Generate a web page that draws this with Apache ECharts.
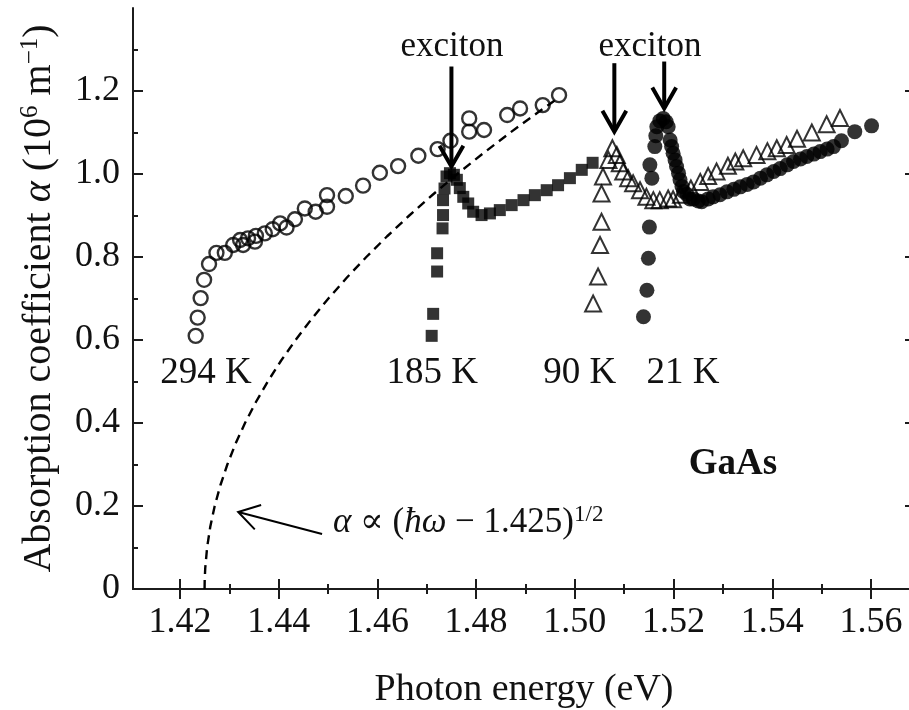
<!DOCTYPE html>
<html>
<head>
<meta charset="utf-8">
<script src="https://cdn.jsdelivr.net/npm/echarts@6/dist/echarts.min.js"></script>
<style>
  html, body { margin: 0; padding: 0; background: #ffffff; }
  #main { width: 909px; height: 710px; }
</style>
</head>
<body>
<div id="main"></div>
<script>
// Axis ticks (photon energy in eV, absorption in 10^6 m^-1)
const xMajorTicks = [1.42, 1.44, 1.46, 1.48, 1.50, 1.52, 1.54, 1.56];
const xMinorTicks = [1.43, 1.45, 1.47, 1.49, 1.51, 1.53, 1.55];
const yMajorTicks = [0, 0.2, 0.4, 0.6, 0.8, 1.0, 1.2];
const yMinorTicks = [0.1, 0.3, 0.5, 0.7, 0.9, 1.1, 1.3];

// 294 K (open circles)
const t294 = [
  [1.4232, 0.610], [1.4236, 0.654], [1.4242, 0.701], [1.4249, 0.745], [1.4259, 0.783],
  [1.4274, 0.810], [1.4291, 0.810], [1.4308, 0.829], [1.4322, 0.841], [1.4328, 0.829],
  [1.4338, 0.845], [1.4352, 0.837], [1.4354, 0.851], [1.4372, 0.857], [1.4388, 0.867],
  [1.4403, 0.881], [1.4416, 0.871], [1.4433, 0.891], [1.4453, 0.917], [1.4475, 0.909],
  [1.4498, 0.921], [1.4498, 0.949], [1.4536, 0.947], [1.4571, 0.972], [1.4605, 1.003],
  [1.4642, 1.019], [1.4683, 1.044], [1.4722, 1.060], [1.4748, 1.080], [1.4786, 1.134],
  [1.4786, 1.102], [1.4816, 1.106], [1.4863, 1.142], [1.4889, 1.158], [1.4935, 1.166],
  [1.4968, 1.190]
];

// 185 K (filled squares)
const t185 = [
  [1.4710, 0.610], [1.4713, 0.663], [1.4721, 0.765], [1.4721, 0.809], [1.4732, 0.869],
  [1.4733, 0.901], [1.4733, 0.937], [1.4736, 0.965], [1.4740, 0.994], [1.4747, 1.002],
  [1.4755, 0.998], [1.4761, 0.986], [1.4767, 0.966], [1.4774, 0.945], [1.4784, 0.929],
  [1.4794, 0.909], [1.4811, 0.901], [1.4828, 0.905], [1.4848, 0.913], [1.4872, 0.925],
  [1.4896, 0.937], [1.4919, 0.949], [1.4943, 0.961], [1.4966, 0.973], [1.4990, 0.990],
  [1.5014, 1.010], [1.5036, 1.027]
];

// 90 K (open triangles)
const t90 = [
  [1.5037, 0.688], [1.5047, 0.753], [1.5051, 0.829], [1.5054, 0.885], [1.5054, 0.953],
  [1.5057, 0.994], [1.5068, 1.034], [1.5076, 1.062], [1.5085, 1.046], [1.5091, 1.026],
  [1.5098, 1.006], [1.5108, 0.990], [1.5118, 0.978], [1.5132, 0.961], [1.5145, 0.945],
  [1.5159, 0.937], [1.5172, 0.937], [1.5189, 0.941], [1.5199, 0.939], [1.5215, 0.950],
  [1.5235, 0.965], [1.5254, 0.981], [1.5270, 0.995], [1.5287, 1.006], [1.5310, 1.020],
  [1.5325, 1.030], [1.5341, 1.038], [1.5368, 1.046], [1.5390, 1.055], [1.5409, 1.062],
  [1.5429, 1.070], [1.5450, 1.085], [1.5480, 1.100], [1.5510, 1.120], [1.5537, 1.135]
];

// 21 K (filled circles)
const t21 = [
  [1.5139, 0.656], [1.5146, 0.720], [1.5149, 0.797], [1.5151, 0.872], [1.5156, 0.990],
  [1.5152, 1.022], [1.5162, 1.066], [1.5164, 1.092], [1.5166, 1.114], [1.5172, 1.128],
  [1.5179, 1.134], [1.5185, 1.126], [1.5189, 1.114], [1.5193, 1.082], [1.5196, 1.066],
  [1.5199, 1.050], [1.5203, 1.034], [1.5206, 1.018], [1.5210, 1.002], [1.5213, 0.986],
  [1.5217, 0.970], [1.5220, 0.958], [1.5227, 0.951], [1.5233, 0.940], [1.5240, 0.940],
  [1.5250, 0.935], [1.5257, 0.933], [1.5270, 0.940], [1.5280, 0.945], [1.5294, 0.950],
  [1.5308, 0.957], [1.5322, 0.963], [1.5335, 0.969], [1.5349, 0.975], [1.5362, 0.981],
  [1.5376, 0.990], [1.5389, 0.998], [1.5403, 1.006], [1.5416, 1.013], [1.5430, 1.022],
  [1.5443, 1.030], [1.5457, 1.036], [1.5470, 1.042], [1.5484, 1.048], [1.5497, 1.054],
  [1.5511, 1.060], [1.5524, 1.066], [1.5540, 1.080], [1.5567, 1.102], [1.5601, 1.116]
];

// square-root absorption edge, alpha ~ (hw - 1.425)^(1/2)
const sqrtEdge = [
  [1.42500, 0.00], [1.42502, 0.02], [1.42513, 0.05], [1.42551, 0.10], [1.42615, 0.15],
  [1.42705, 0.20], [1.42820, 0.25], [1.42961, 0.30], [1.43127, 0.35], [1.43319, 0.40],
  [1.43537, 0.45], [1.43780, 0.50], [1.44048, 0.55], [1.44343, 0.60], [1.44663, 0.65],
  [1.45008, 0.70], [1.45379, 0.75], [1.45776, 0.80], [1.46198, 0.85], [1.46646, 0.90],
  [1.47120, 0.95], [1.47619, 1.00], [1.48144, 1.05], [1.48693, 1.10], [1.49269, 1.15],
  [1.49630, 1.18]
];

// annotation text, anchored in data coordinates
const tempLabels = [
  { text: '294 K', at: [1.4253, 0.520] },
  { text: '185 K', at: [1.4711, 0.520] },
  { text: '90 K', at: [1.5010, 0.520] },
  { text: '21 K', at: [1.5219, 0.520] }
];
const excitonLabels = [
  { text: 'exciton', at: [1.4751, 1.307] },
  { text: 'exciton', at: [1.5152, 1.307] }
];
// arrows: [from, to]
const excitonArrows = [
  [[1.4750, 1.259], [1.4750, 1.018]],
  [[1.5080, 1.267], [1.5080, 1.102]],
  [[1.5181, 1.271], [1.5181, 1.158]]
];
const formulaArrow = [[1.4488, 0.1325], [1.4318, 0.1855]];
const formulaAnchor = [1.4510, 0.159];
const materialAnchor = [1.5320, 0.299];

const FONT = '"Liberation Serif", "DejaVu Serif", "Times New Roman", serif';
const INK = '#000000';
const AXIS = '#1c1c1c';

function arrowChildren(p0, p1, headLen, halfAngle, width) {
  const dx = p1[0] - p0[0], dy = p1[1] - p0[1];
  const len = Math.hypot(dx, dy);
  const ux = dx / len, uy = dy / len;
  const arm = (sgn) => {
    const c = Math.cos(sgn * halfAngle), s = Math.sin(sgn * halfAngle);
    const bx = -ux, by = -uy;
    return [p1[0] + headLen * (bx * c - by * s), p1[1] + headLen * (bx * s + by * c)];
  };
  const style = { stroke: INK, lineWidth: width, fill: null, lineCap: 'butt', lineJoin: 'miter' };
  return [
    { type: 'line', shape: { x1: p0[0], y1: p0[1], x2: p1[0] - ux * width * 0.5, y2: p1[1] - uy * width * 0.5 }, style },
    { type: 'polyline', shape: { points: [arm(1), p1, arm(-1)] }, style }
  ];
}

const chart = echarts.init(document.getElementById('main'), null, { renderer: 'canvas' });

const xBase = { type: 'value', min: 1.4105, max: 1.5689, splitLine: { show: false } };
const yBase = { type: 'value', min: 0, max: 1.4, splitLine: { show: false } };
const lineStyle = { color: AXIS, width: 2 };

const option = {
  backgroundColor: '#ffffff',
  animation: false,
  grid: { left: 133, right: -6, top: 8, bottom: 121, containLabel: false, outerBoundsMode: 'none' },
  xAxis: [
    Object.assign({}, xBase, {
      position: 'bottom',
      axisLine: { show: true, lineStyle },
      axisTick: { show: true, inside: true, length: 10, customValues: xMajorTicks, lineStyle },
      axisLabel: {
        customValues: xMajorTicks, formatter: v => v.toFixed(2),
        fontFamily: FONT, fontSize: 36, color: '#111', margin: 16
      },
      name: 'Photon energy (eV)', nameLocation: 'middle', nameGap: 82,
      nameTextStyle: { fontFamily: FONT, fontSize: 38, color: '#111' }
    }),
    Object.assign({}, xBase, {
      position: 'bottom',
      axisLine: { show: false },
      axisTick: { show: true, inside: true, length: 5, customValues: xMinorTicks, lineStyle },
      axisLabel: { show: false }
    }),
    Object.assign({}, xBase, {
      position: 'top',
      axisLine: { show: true, lineStyle },
      axisTick: { show: true, inside: true, length: 10, customValues: xMajorTicks, lineStyle },
      axisLabel: { show: false }
    }),
    Object.assign({}, xBase, {
      position: 'top',
      axisLine: { show: false },
      axisTick: { show: true, inside: true, length: 5, customValues: xMinorTicks, lineStyle },
      axisLabel: { show: false }
    })
  ],
  yAxis: [
    Object.assign({}, yBase, {
      position: 'left',
      axisLine: { show: true, lineStyle },
      axisTick: { show: true, inside: true, length: 10, customValues: yMajorTicks, lineStyle },
      axisLabel: {
        customValues: yMajorTicks, formatter: v => (v === 0 ? '0' : v.toFixed(1)),
        fontFamily: FONT, fontSize: 36, color: '#111', margin: 13
      },
      name: 'Absorption coefficient {i|α} (10{sup|6} m{sup|−1})',
      nameLocation: 'middle', nameGap: 72, nameRotate: 90,
      nameTextStyle: {
        fontFamily: FONT, fontSize: 40, color: '#111',
        rich: {
          i: { fontFamily: FONT, fontSize: 40, fontStyle: 'italic', color: '#111' },
          sup: { fontFamily: FONT, fontSize: 25, color: '#111', padding: [0, 0, 18, 0] }
        }
      }
    }),
    Object.assign({}, yBase, {
      position: 'left',
      axisLine: { show: false },
      axisTick: { show: true, inside: true, length: 5, customValues: yMinorTicks, lineStyle },
      axisLabel: { show: false }
    }),
    Object.assign({}, yBase, {
      position: 'right',
      axisLine: { show: true, lineStyle },
      axisTick: { show: true, inside: true, length: 10, customValues: yMajorTicks, lineStyle },
      axisLabel: { show: false }
    }),
    Object.assign({}, yBase, {
      position: 'right',
      axisLine: { show: false },
      axisTick: { show: true, inside: true, length: 5, customValues: yMinorTicks, lineStyle },
      axisLabel: { show: false }
    })
  ],
  series: [
    {
      name: 'sqrt edge', type: 'line', data: sqrtEdge, smooth: false,
      showSymbol: false, symbol: 'none',
      lineStyle: { color: INK, width: 2.4, type: [9, 6] }, z: 2, silent: true
    },
    {
      name: '294 K', type: 'scatter', data: t294, symbol: 'circle', symbolSize: 14,
      itemStyle: { color: 'rgba(255,255,255,0)', borderColor: INK, borderWidth: 2.4 }, z: 3
    },
    {
      name: '185 K', type: 'scatter', data: t185, symbol: 'rect', symbolSize: 12,
      itemStyle: { color: INK }, z: 3
    },
    {
      name: '90 K', type: 'scatter', data: t90, symbol: 'triangle', symbolSize: 16,
      itemStyle: { color: 'rgba(255,255,255,0)', borderColor: INK, borderWidth: 2 }, z: 3
    },
    {
      name: '21 K', type: 'scatter', data: t21, symbol: 'circle', symbolSize: 15,
      itemStyle: { color: INK }, z: 4
    },
    {
      name: 'annotations', type: 'custom', clip: false, silent: true, z: 10,
      data: [[0, 0]],
      renderItem: function (params, api) {
        const children = [];
        const textStyle = (txt, extra) => Object.assign({
          text: txt, fontFamily: FONT, fontSize: 37, fill: '#111',
          align: 'center', verticalAlign: 'middle'
        }, extra || {});
        tempLabels.forEach(l => {
          const p = api.coord(l.at);
          children.push({ type: 'text', x: p[0], y: p[1], style: textStyle(l.text) });
        });
        excitonLabels.forEach(l => {
          const p = api.coord(l.at);
          children.push({ type: 'text', x: p[0], y: p[1], style: textStyle(l.text, { fontSize: 35 }) });
        });
        excitonArrows.forEach(a => {
          const p0 = api.coord(a[0]), p1 = api.coord(a[1]);
          arrowChildren(p0, p1, 24, 0.52, 4).forEach(c => children.push(c));
        });
        const f0 = api.coord(formulaArrow[0]), f1 = api.coord(formulaArrow[1]);
        arrowChildren(f0, f1, 24, 0.55, 2).forEach(c => children.push(c));
        const fp = api.coord(formulaAnchor);
        children.push({
          type: 'text', x: fp[0], y: fp[1],
          style: {
            text: '{i|α} ∝ ({i|ħω} − 1.425){sup|1/2}',
            fontFamily: FONT, fontSize: 35, fill: '#111', align: 'left', verticalAlign: 'middle',
            rich: {
              i: { fontFamily: FONT, fontSize: 35, fontStyle: 'italic', fill: '#111' },
              sup: { fontFamily: FONT, fontSize: 23, fill: '#111', padding: [0, 0, 17, 0] }
            }
          }
        });
        const mp = api.coord(materialAnchor);
        children.push({ type: 'text', x: mp[0], y: mp[1], style: textStyle('GaAs', { fontWeight: 'bold' }) });
        return { type: 'group', children };
      }
    }
  ]
};

chart.setOption(option);
</script>
</body>
</html>
